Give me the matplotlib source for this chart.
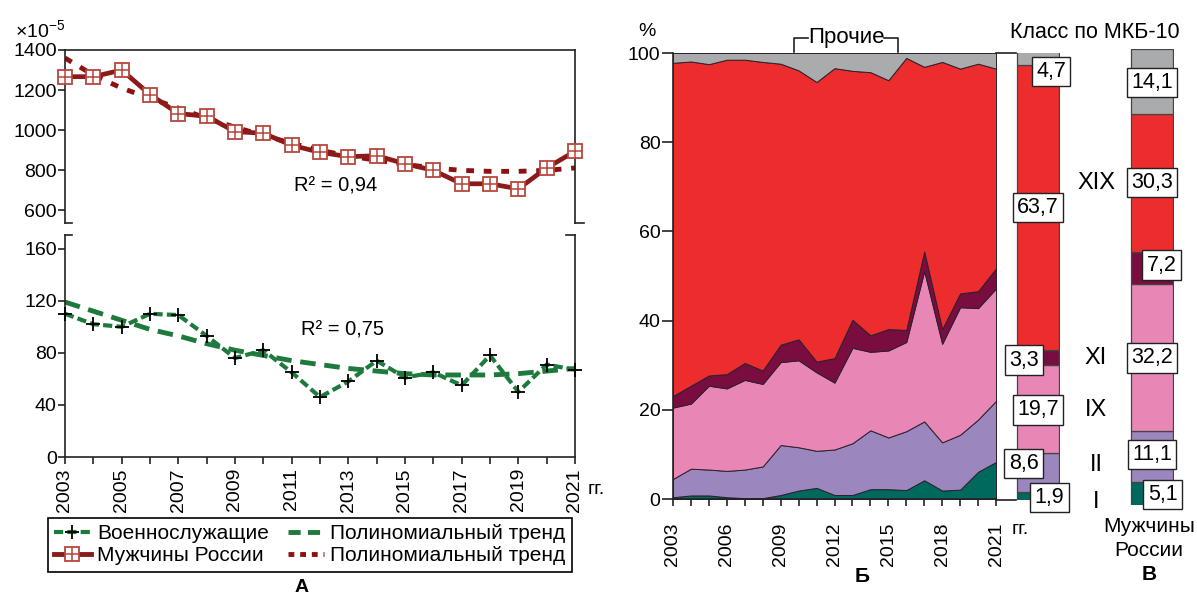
import matplotlib
matplotlib.use('Agg')
import matplotlib.pyplot as plt
from matplotlib.lines import Line2D
from matplotlib.legend_handler import HandlerTuple

plt.rcParams['font.family'] = ['Liberation Sans', 'DejaVu Sans']
plt.rcParams['mathtext.fontset'] = 'custom'
plt.rcParams['mathtext.rm'] = 'Liberation Sans'
plt.rcParams['mathtext.it'] = 'Liberation Sans:italic'
plt.rcParams['mathtext.bf'] = 'Liberation Sans:bold'

# ---------------- data ----------------
years = list(range(2003, 2022))

# Panel A (top): Мужчины России, x10^-5
men_russia = [1267, 1267, 1300, 1178, 1083, 1070, 993, 985, 925, 890,
              868, 873, 833, 800, 733, 733, 708, 812, 895]
men_trend = [1360, 1275, 1210, 1160, 1110, 1060, 1015, 975, 935, 900,
             872, 850, 830, 812, 800, 795, 795, 800, 812]
r2_men = "0,94"

# Panel A (bottom): Военнослужащие
military = [110, 102, 100, 110, 109, 93, 76, 82, 65, 46,
            58, 74, 61, 65, 55, 78, 50, 71, 67]
military_trend = [119, 112, 105, 98, 93, 87, 82, 78, 74, 71,
                  68, 66, 64, 63, 63, 63, 64, 66, 68]
r2_mil = "0,75"

# Panel Б: shares (%) by ICD-10 class
share_I = [0.4, 0.8, 0.8, 0.4, 0.2, 0.2, 0.9, 1.9, 2.5, 0.9,
           0.9, 2.2, 2.2, 2.0, 4.2, 1.9, 2.1, 6.1, 8.3]
share_II = [4.1, 6.0, 5.8, 5.9, 6.4, 7.1, 11.2, 9.7, 8.3, 10.2,
            11.6, 13.2, 11.6, 13.2, 13.2, 10.8, 12.3, 11.7, 13.7]
share_IX = [16.0, 14.6, 18.8, 18.5, 20.1, 18.5, 18.6, 19.5, 17.6, 15.0,
            21.4, 17.6, 19.5, 20.0, 33.7, 22.1, 28.6, 25.0, 25.2]
share_XI = [2.6, 4.0, 2.3, 3.2, 3.8, 3.0, 3.9, 4.7, 2.4, 5.5,
            6.3, 3.7, 4.8, 2.7, 4.4, 3.3, 3.1, 3.8, 4.5]
share_XIX = [74.7, 72.7, 69.8, 70.5, 68.0, 69.2, 63.0, 60.3, 62.7, 65.0,
             55.8, 59.0, 55.8, 61.0, 41.4, 59.9, 50.4, 51.0, 44.8]
share_other = [2.2, 1.9, 2.5, 1.5, 1.5, 2.0, 2.4, 3.9, 6.5, 3.4,
               4.0, 4.3, 6.1, 1.1, 3.1, 2.0, 3.5, 2.4, 3.5]

# Panel В bars
bar_classes = ["I", "II", "IX", "XI", "XIX", "Прочие"]
bar_military = [1.9, 8.6, 19.7, 3.3, 63.7, 4.7]
bar_men = [5.1, 11.1, 32.2, 7.2, 30.3, 14.1]
roman_labels = ["I", "II", "IX", "XI", "XIX"]

# ---------------- style ----------------
W, H = 1197, 596
fig = plt.figure(figsize=(W / 100, H / 100), dpi=100)

def rect(x0, y0, x1, y1):
    return [x0 / W, 1 - y1 / H, (x1 - x0) / W, (y1 - y0) / H]

def ftext(x, y, s, **kw):
    return fig.text(x / W, 1 - y / H, s, **kw)

def fline(xs, ys, **kw):
    fig.add_artist(Line2D([x / W for x in xs], [1 - y / H for y in ys],
                          transform=fig.transFigure, **kw))

DARKRED = '#8B1A1A'
BRICK = '#B8453A'
GREEN = '#1D7A3C'
SPINE = '#222222'
class_colors = ['#00695E', '#9B86BE', '#E886B5', '#7A0D40', '#EC2C2D', '#A9ABAC']
FS = 14

# ---------------- Panel A top ----------------
ax1 = fig.add_axes(rect(65, 50, 575, 222.5))
ax1.set_xlim(2003, 2021)
ax1.set_ylim(540, 1400)
ax1.plot(years, men_trend, color='#8E1111', lw=3.5, ls=(0, (1.6, 2.0)), zorder=2)
ax1.plot(years, men_russia, color=DARKRED, lw=3.4, zorder=3, clip_on=False)
ax1.plot(years, men_russia, ls='none', marker='s', ms=9.5, mfc='white', mec=BRICK,
         mew=1.3, zorder=4, clip_on=False)
ax1.plot(years, men_russia, ls='none', marker='+', ms=9.5, mec=BRICK, mew=1.1,
         zorder=5, clip_on=False)
ax1.set_yticks([600, 800, 1000, 1200, 1400])
ax1.tick_params(axis='y', direction='out', length=5, width=1.2, pad=1, labelsize=FS, color=SPINE)
ax1.tick_params(axis='x', bottom=False, labelbottom=False)
ax1.spines['bottom'].set_visible(False)
for s in ['top', 'left', 'right']:
    ax1.spines[s].set_color(SPINE)
    ax1.spines[s].set_linewidth(1.2)
ax1.plot([0, 0.013], [0, 0], transform=ax1.transAxes, color=SPINE, lw=1.2, clip_on=False)
ax1.plot([1, 1.017], [0, 0], transform=ax1.transAxes, color=SPINE, lw=1.2, clip_on=False)
ax1.text(0.53, 0.21, "R² = " + r2_men, transform=ax1.transAxes, fontsize=14.5,
         ha='center', va='center')
ftext(15, 30, r"×10$^{-5}$", fontsize=FS, ha='left', va='center')

# ---------------- Panel A bottom ----------------
ax2 = fig.add_axes(rect(65, 235, 575, 457))
ax2.set_xlim(2003, 2021)
ax2.set_ylim(0, 170.5)
ax2.plot(years, military_trend, color=GREEN, lw=3.5, ls=(0, (3.2, 1.8)), zorder=2)
ax2.plot(years, military, color=GREEN, lw=3, ls=(0, (2.2, 1.0)), zorder=3, clip_on=False)
ax2.plot(years, military, ls='none', marker='+', ms=10, mec='black', mew=1.3,
         zorder=4, clip_on=False)
ax2.set_yticks([0, 40, 80, 120, 160])
ax2.set_xticks(years[::2])
ax2.set_xticklabels([str(y) for y in years[::2]], rotation=90)
ax2.set_xticks(years, minor=True)
ax2.tick_params(axis='y', direction='out', length=5, width=1.2, pad=1, labelsize=FS, color=SPINE)
ax2.tick_params(axis='x', which='both', direction='out', length=5, width=1.2, pad=3,
                labelsize=FS, color=SPINE)
ax2.spines['top'].set_visible(False)
for s in ['bottom', 'left', 'right']:
    ax2.spines[s].set_color(SPINE)
    ax2.spines[s].set_linewidth(1.2)
ax2.plot([0, 0.013], [1, 1], transform=ax2.transAxes, color=SPINE, lw=1.2, clip_on=False)
ax2.plot([0.983, 1], [1, 1], transform=ax2.transAxes, color=SPINE, lw=1.2, clip_on=False)
ax2.text(0.545, 0.57, "R² = " + r2_mil, transform=ax2.transAxes, fontsize=14.5,
         ha='center', va='center')
ftext(588, 489, "гг.", fontsize=FS, ha='left', va='center')

# legend
h_mil = Line2D([], [], color=GREEN, lw=3, ls=(0, (2.2, 1.0)), marker='+', ms=10,
               mec='black', mew=1.3)
h_men = (Line2D([], [], color=DARKRED, lw=3.5),
         Line2D([], [], ls='none', marker='s', ms=9.5, mfc='white', mec=BRICK, mew=1.3),
         Line2D([], [], ls='none', marker='+', ms=9.5, mec=BRICK, mew=1.1))
h_gt = Line2D([], [], color=GREEN, lw=3.5, ls=(0, (2.5, 1.5)))
h_rt = Line2D([], [], color='#8E1111', lw=3.5, ls=(0, (1.2, 1.2)))
leg = fig.legend([h_mil, h_men, h_gt, h_rt],
                 ['Военнослужащие', 'Мужчины России', 'Полиномиальный тренд',
                  'Полиномиальный тренд'],
                 ncol=2, loc='upper left', bbox_to_anchor=(48 / W, 1 - 518 / H),
                 fontsize=15, frameon=True, fancybox=False, edgecolor='black',
                 framealpha=1, handlelength=1.75, handletextpad=0.3,
                 columnspacing=0.9, borderpad=0.3, labelspacing=0.15,
                 borderaxespad=0, handler_map={tuple: HandlerTuple(ndivide=1)})
leg.get_frame().set_linewidth(1.2)
ftext(302, 587, "А", fontsize=FS, fontweight='bold', ha='center', va='center')

# ---------------- Panel Б ----------------
axb = fig.add_axes(rect(673, 53, 996, 499))
polys = axb.stackplot(years, share_I, share_II, share_IX, share_XI, share_XIX, share_other,
                      colors=class_colors, edgecolor='#2a1f2c', linewidth=0.7)
for p in polys:
    p.set_clip_on(False)
axb.set_xlim(2003, 2021)
axb.set_ylim(0, 100)
axb.set_xticks(years[::3])
axb.set_xticklabels([str(y) for y in years[::3]], rotation=90)
axb.set_xticks(years, minor=True)
axb.set_yticks([0, 20, 40, 60, 80, 100])
axb.tick_params(axis='y', direction='out', length=8, width=1.2, pad=1, labelsize=FS, color=SPINE)
axb.tick_params(axis='x', which='both', direction='out', length=5, width=1.2, pad=12,
                labelsize=FS, color=SPINE)
axb.spines['top'].set_visible(False)
axb.spines['right'].set_visible(False)
for s in ['bottom', 'left']:
    axb.spines[s].set_color(SPINE)
    axb.spines[s].set_linewidth(1.2)
ftext(647, 31, "%", fontsize=FS, ha='center', va='center')
ftext(846, 37, "Прочие", fontsize=16, ha='center', va='center')
fline([794, 794, 808], [52, 38, 38], color=SPINE, lw=1.2)
fline([884, 898, 898], [38, 38, 52], color=SPINE, lw=1.2)
fline([996, 1016], [52.7, 52.7], color=SPINE, lw=1.2)
fline([996, 1016], [500, 500], color=SPINE, lw=1.2)
ftext(1012, 530, "гг.", fontsize=FS, ha='left', va='center')
ftext(862, 576, "Б", fontsize=15, fontweight='bold', ha='center', va='center')

# ---------------- Panel В bars ----------------
def fmt(v):
    return f"{v:.1f}".replace('.', ',')

def draw_bar(r, vals, dx, dy):
    ax = fig.add_axes(rect(*r))
    ax.set_xlim(-0.52, 0.52)
    ax.set_ylim(0, 100)
    ax.axis('off')
    bottom = 0
    for v, c, ox, oy in zip(vals, class_colors, dx, dy):
        ax.bar(0, v, bottom=bottom, width=1, color=c, edgecolor='#444444', linewidth=0.9)
        ax.annotate(fmt(v), xy=(0, bottom + v / 2), xytext=(ox * 0.72, -oy * 0.72),
                    textcoords='offset points', ha='center', va='center', fontsize=15.5,
                    annotation_clip=False, zorder=5,
                    bbox=dict(boxstyle='square,pad=0.2', fc='white', ec='#222222', lw=1))
        bottom += v
    return ax

draw_bar((1016, 52.7, 1060, 500), bar_military,
         dx=[11.5, -14.5, 0, -14, 0, 13], dy=[1.75, -8.8, 1, 2.5, 0, 16.8])
draw_bar((1130, 49.3, 1174, 505), bar_men,
         dx=[10.5, 0, 0, 9.5, 0, 0], dy=[1, -2, 0, -3, 0, 1])

roman_y = [501.7, 465, 410, 358, 183]
for lab, y in zip(roman_labels, roman_y):
    ftext(1096, y, lab, fontsize=17, ha='center', va='center')
ftext(1095, 33, "Класс по МКБ-10", fontsize=15.5, ha='center', va='center')
ftext(1149, 527, "Мужчины", fontsize=15, ha='center', va='center')
ftext(1149, 551, "России", fontsize=15, ha='center', va='center')
ftext(1149, 574, "В", fontsize=15, fontweight='bold', ha='center', va='center')

fig.savefig('out.png', dpi=100, facecolor='white')
